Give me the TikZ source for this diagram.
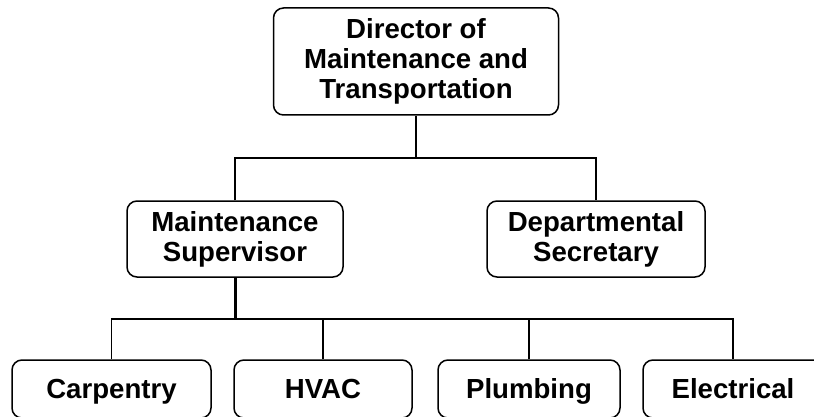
\documentclass[tikz,border=0pt]{standalone}
\usepackage{fontspec}
\setmainfont{Liberation Sans}
\begin{document}
\begin{tikzpicture}[x=1pt,y=-1pt,
  box/.style={draw, rounded corners=10pt, line width=1.5pt, align=center,
    inner sep=0pt, font=\bfseries\fontsize{27.6}{30}\selectfont},
  trade/.style={box, minimum height=58pt, text height=19.8pt, text depth=0pt},
  link/.style={line width=1.6pt},
  trunk/.style={line width=3pt}]
\useasboundingbox (0,0) rectangle (814,417);
\clip (0,0) rectangle (814,417);

% top level
\node[box, minimum width=285pt, minimum height=107pt] (dir) at (416,61.5)
  {Director of\\Maintenance and\\Transportation};

% second level
\node[box, minimum width=216pt, minimum height=76pt] (ms) at (235,239)
  {Maintenance\\Supervisor};
\node[box, minimum width=218pt, minimum height=76pt] (sec) at (596,239)
  {Departmental\\Secretary};

% trades
\node[trade, minimum width=199pt] (carp) at (111.5,389) {Carpentry};
\node[trade, minimum width=178pt] (hvac) at (323,389) {HVAC};
\node[trade, minimum width=182pt] (plumb) at (529,389) {Plumbing};
\node[trade, minimum width=180pt] (elec) at (733,389) {Electrical};

% junctions
\coordinate (busA) at (416,158);
\coordinate (busB) at (235,319);

% connectors
\draw[link] (dir.south) -- (busA);
\draw[link] (ms.north) |- (busA) -| (sec.north);
\draw[trunk] (ms.south) -- (busB);
\draw[link] (carp.north) |- (busB) -| (elec.north);
\draw[link] (hvac.north) -- (hvac.north |- busB);
\draw[link] (plumb.north) -- (plumb.north |- busB);
\end{tikzpicture}
\end{document}
